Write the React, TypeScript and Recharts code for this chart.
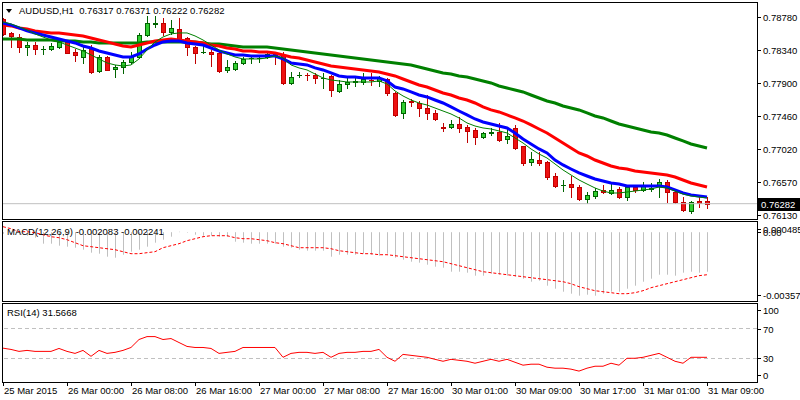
import React from "react";
import { Bar, ComposedChart, Line, ReferenceLine, XAxis, YAxis } from "recharts";

// H1 bars, index 0 = 25 Mar 16:00
const timeTicks = [0, 8, 16, 24, 32, 40, 48, 56, 64, 72, 80, 88];
const timeLabels = [
  "25 Mar 2015", "26 Mar 00:00", "26 Mar 08:00", "26 Mar 16:00", "27 Mar 00:00", "27 Mar 08:00",
  "27 Mar 16:00", "30 Mar 01:00", "30 Mar 09:00", "30 Mar 17:00", "31 Mar 01:00", "31 Mar 09:00",
];
const priceTicks = [0.7878, 0.7834, 0.779, 0.7746, 0.7702, 0.7657, 0.7613];
const macdTicks = [0.000485, 0, -0.003573];
const macdTickText = ["0.000485", "0.00", "-0.003573"];
const rsiTicks = [100, 70, 30, 0];
const lastPrice = 0.76282;

const openP = [
  0.78753, 0.78566, 0.78512, 0.78379, 0.78405, 0.78345, 0.78352, 0.78379, 0.78446, 0.78312,
  0.78245, 0.78352, 0.78057, 0.78245, 0.78084, 0.78111, 0.78178, 0.78245, 0.78539, 0.7869,
  0.787, 0.78579, 0.78619, 0.78499, 0.78379, 0.78305, 0.78312, 0.78298, 0.78071, 0.78084,
  0.78165, 0.78225, 0.78225, 0.78245, 0.78285, 0.78272, 0.77897, 0.77997, 0.78004, 0.78004,
  0.77957, 0.77991, 0.7779, 0.77884, 0.7791, 0.7791, 0.77937, 0.77924, 0.7795, 0.77763,
  0.77496, 0.77649, 0.77629, 0.77562, 0.77496, 0.77308, 0.77308, 0.77348, 0.77308, 0.77268,
  0.77174, 0.77234, 0.77241, 0.77148, 0.77295, 0.77054, 0.7684, 0.76867, 0.7684, 0.76653,
  0.76526, 0.76546, 0.76505, 0.76345, 0.76385, 0.76465, 0.76425, 0.76479, 0.76372, 0.76505,
  0.76465, 0.76485, 0.76519, 0.76572, 0.76439, 0.76305, 0.76184, 0.76318, 0.76317,
];
const highP = [
  0.78767, 0.78572, 0.78553, 0.78446, 0.78446, 0.78392, 0.78432, 0.78472, 0.78472, 0.78352,
  0.78379, 0.78405, 0.78265, 0.78252, 0.78138, 0.78205, 0.78312, 0.78566, 0.78793, 0.78793,
  0.78767, 0.7874, 0.78767, 0.78512, 0.78392, 0.78432, 0.78338, 0.78312, 0.78205, 0.78191,
  0.78245, 0.78272, 0.78272, 0.78298, 0.78312, 0.78312, 0.78044, 0.78044, 0.78031, 0.78031,
  0.78031, 0.78004, 0.77937, 0.77964, 0.77964, 0.78031, 0.78031, 0.77991, 0.77964, 0.7777,
  0.77669, 0.77683, 0.77656, 0.77736, 0.77536, 0.77362, 0.77402, 0.77442, 0.77335, 0.77295,
  0.77241, 0.77295, 0.77362, 0.77295, 0.77335, 0.7706, 0.76974, 0.76974, 0.76853, 0.76693,
  0.76599, 0.76653, 0.76532, 0.76439, 0.76492, 0.76532, 0.76559, 0.76505, 0.76519, 0.76532,
  0.76572, 0.76559, 0.76612, 0.76599, 0.76479, 0.76372, 0.76318, 0.76372, 0.76371,
];
const lowP = [
  0.78539, 0.78379, 0.78312, 0.78272, 0.78285, 0.78285, 0.78338, 0.78365, 0.78292, 0.78191,
  0.78165, 0.78031, 0.7805, 0.78064, 0.77977, 0.78031, 0.78165, 0.78231, 0.78526, 0.78646,
  0.78539, 0.78553, 0.78472, 0.78272, 0.78165, 0.78298, 0.78124, 0.78044, 0.78044, 0.78071,
  0.78151, 0.78165, 0.78178, 0.78231, 0.78151, 0.77884, 0.77884, 0.77977, 0.77937, 0.77897,
  0.7783, 0.77723, 0.77777, 0.7783, 0.77857, 0.77884, 0.7787, 0.77857, 0.77736, 0.77455,
  0.77429, 0.77589, 0.77455, 0.77415, 0.77402, 0.77255, 0.77295, 0.77241, 0.77108, 0.77081,
  0.77161, 0.77201, 0.77121, 0.77094, 0.77014, 0.768, 0.768, 0.768, 0.76612, 0.76505,
  0.76452, 0.76372, 0.76331, 0.76291, 0.76358, 0.76425, 0.76412, 0.76358, 0.76331, 0.76439,
  0.76452, 0.76452, 0.76372, 0.76305, 0.76291, 0.76184, 0.76157, 0.76238, 0.76222,
];
const closeP = [
  0.78553, 0.78526, 0.78379, 0.78405, 0.78352, 0.78352, 0.78392, 0.78446, 0.78298, 0.78272,
  0.78338, 0.78044, 0.78245, 0.78071, 0.78111, 0.78178, 0.78258, 0.78539, 0.787, 0.787,
  0.78579, 0.78633, 0.78486, 0.78379, 0.78298, 0.78312, 0.78285, 0.78057, 0.78111, 0.78165,
  0.78218, 0.78231, 0.78231, 0.78285, 0.78258, 0.77897, 0.77977, 0.78004, 0.77997, 0.77964,
  0.77964, 0.77803, 0.77884, 0.7791, 0.77917, 0.7795, 0.7793, 0.77964, 0.77763, 0.77469,
  0.77643, 0.77636, 0.77562, 0.77496, 0.77415, 0.77301, 0.77348, 0.77295, 0.77255, 0.77174,
  0.77228, 0.77241, 0.77134, 0.77188, 0.77027, 0.76827, 0.7688, 0.76827, 0.76639, 0.76519,
  0.76532, 0.76505, 0.76345, 0.76398, 0.76452, 0.76432, 0.76465, 0.76372, 0.76505, 0.76465,
  0.76532, 0.76492, 0.76572, 0.76439, 0.76305, 0.76198, 0.76305, 0.76291, 0.76282,
];

// moving averages (thin green, blue, red, thick green)
const maFast = [
  0.78713, 0.78686, 0.78646, 0.78606, 0.78553, 0.78512, 0.78472, 0.78446, 0.78405, 0.78365,
  0.78325, 0.78272, 0.78218, 0.78165, 0.78138, 0.78124, 0.78138, 0.78218, 0.78338, 0.78446,
  0.78512, 0.78553, 0.78566, 0.78566, 0.78526, 0.78472, 0.78405, 0.78338, 0.78285, 0.78245,
  0.78218, 0.78218, 0.78218, 0.78231, 0.78258, 0.78231, 0.78138, 0.78098, 0.78071, 0.78017,
  0.77964, 0.77937, 0.77924, 0.7791, 0.7791, 0.7791, 0.7791, 0.77924, 0.77884, 0.7779,
  0.77723, 0.77669, 0.77629, 0.77602, 0.77562, 0.77522, 0.77482, 0.77429, 0.77362, 0.77321,
  0.77295, 0.77281, 0.77255, 0.77228, 0.77161, 0.77094, 0.77014, 0.76947, 0.76893, 0.76813,
  0.76733, 0.76666, 0.76599, 0.76545, 0.76492, 0.76451, 0.76425, 0.76425, 0.76438, 0.76451,
  0.76465, 0.76478, 0.76505, 0.76492, 0.76451, 0.76411, 0.76385, 0.76371, 0.76358,
];
const maBlue = [
  0.787, 0.78673, 0.78633, 0.78593, 0.78566, 0.78539, 0.78512, 0.78486, 0.78459, 0.78432,
  0.78392, 0.78365, 0.78325, 0.78298, 0.78272, 0.78245, 0.78245, 0.78285, 0.78352, 0.78405,
  0.78446, 0.78459, 0.78459, 0.78432, 0.78419, 0.78405, 0.78365, 0.78325, 0.78298, 0.78272,
  0.78272, 0.78258, 0.78258, 0.78258, 0.78258, 0.78218, 0.78165, 0.78151, 0.78138, 0.78098,
  0.78071, 0.78031, 0.77991, 0.77977, 0.77977, 0.77964, 0.77964, 0.77964, 0.77924, 0.77843,
  0.77817, 0.77777, 0.77736, 0.7771, 0.77669, 0.77629, 0.77576, 0.77522, 0.77469, 0.77415,
  0.77375, 0.77348, 0.77321, 0.77295, 0.77228, 0.77147, 0.77081, 0.77014, 0.7696, 0.76866,
  0.768, 0.76746, 0.76693, 0.76652, 0.76612, 0.76585, 0.76559, 0.76545, 0.76519, 0.76519,
  0.76519, 0.76519, 0.76519, 0.76505, 0.76465, 0.76425, 0.76398, 0.76385, 0.76371,
];
const maRed = [
  0.78673, 0.7866, 0.78633, 0.78619, 0.78593, 0.78579, 0.78566, 0.78566, 0.78553, 0.78539,
  0.78526, 0.78499, 0.78472, 0.78446, 0.78419, 0.78392, 0.78379, 0.78405, 0.78432, 0.78459,
  0.78472, 0.78486, 0.78472, 0.78459, 0.78446, 0.78432, 0.78405, 0.78392, 0.78365, 0.78352,
  0.78325, 0.78325, 0.78312, 0.78312, 0.78298, 0.78272, 0.78245, 0.78231, 0.78205, 0.78178,
  0.78151, 0.78124, 0.78111, 0.78098, 0.78084, 0.78071, 0.78057, 0.78044, 0.78017, 0.77991,
  0.7795, 0.7791, 0.7787, 0.77843, 0.77803, 0.77763, 0.77736, 0.77696, 0.77669, 0.77629,
  0.77576, 0.77536, 0.77509, 0.77469, 0.77429, 0.77388, 0.77335, 0.77281, 0.77228, 0.77161,
  0.77094, 0.77027, 0.7696, 0.7692, 0.76866, 0.76826, 0.76786, 0.76759, 0.76746, 0.76719,
  0.76706, 0.76693, 0.76679, 0.76666, 0.76639, 0.76599, 0.76559, 0.76532, 0.76505,
];
const maSlow = [
  0.78486, 0.78486, 0.78486, 0.78472, 0.78472, 0.78472, 0.78472, 0.78459, 0.78459, 0.78459,
  0.78446, 0.78446, 0.78432, 0.78432, 0.78432, 0.78432, 0.78432, 0.78432, 0.78446, 0.78446,
  0.78446, 0.78446, 0.78446, 0.78446, 0.78446, 0.78432, 0.78419, 0.78419, 0.78405, 0.78392,
  0.78379, 0.78379, 0.78379, 0.78379, 0.78365, 0.78352, 0.78338, 0.78325, 0.78312, 0.78298,
  0.78285, 0.78272, 0.78258, 0.78245, 0.78231, 0.78218, 0.78205, 0.78191, 0.78178, 0.78165,
  0.78151, 0.78138, 0.78111, 0.78084, 0.78057, 0.78031, 0.78017, 0.77991, 0.77977, 0.7795,
  0.77924, 0.77897, 0.77857, 0.7783, 0.77803, 0.77777, 0.77736, 0.77696, 0.77656, 0.77629,
  0.77589, 0.77562, 0.77536, 0.77496, 0.77455, 0.77429, 0.77388, 0.77348, 0.77321, 0.77295,
  0.77268, 0.77241, 0.77228, 0.77201, 0.77161, 0.77121, 0.77081, 0.77054, 0.77027,
];

// MACD(12,26,9)
const macdHist = [
  -0.000079, -0.000132, -0.000132, -0.000184, -0.00029, -0.000606, -0.000606, -0.000711, -0.000764, -0.000817,
  -0.000922, -0.00108, -0.001133, -0.001291, -0.001344, -0.001186, -0.001028, -0.000922, -0.000764, -0.000553,
  -0.000395, -0.000237, 0.000026, -0.000026, -0.000132, -0.000184, -0.000184, -0.000237, -0.000237, -0.000501,
  -0.000553, -0.000606, -0.000606, -0.000606, -0.000606, -0.000764, -0.000817, -0.000922, -0.000975, -0.000975,
  -0.000975, -0.001291, -0.001186, -0.001186, -0.001186, -0.001133, -0.001186, -0.001238, -0.001133, -0.001344,
  -0.001449, -0.001555, -0.001607, -0.001713, -0.001818, -0.001871, -0.002082, -0.002082, -0.002134, -0.002292,
  -0.002292, -0.002187, -0.00224, -0.002292, -0.002345, -0.00245, -0.002609, -0.002556, -0.00282, -0.002978,
  -0.003136, -0.003241, -0.003346, -0.003294, -0.003346, -0.003241, -0.003136, -0.003136, -0.002978, -0.00282,
  -0.002609, -0.00245, -0.00224, -0.00224, -0.002292, -0.002134, -0.002082, -0.002134, -0.002083,
];
const macdSignal = [
  0.00029, 0.000184, 0.000026, 0.000026, -0.000026, -0.000132, -0.000237, -0.00029, -0.000395, -0.000553,
  -0.000711, -0.000764, -0.000817, -0.00087, -0.000922, -0.001028, -0.001133, -0.001133, -0.00108, -0.001028,
  -0.000817, -0.000711, -0.000606, -0.000448, -0.000343, -0.000237, -0.000184, -0.000184, -0.000184, -0.00029,
  -0.000343, -0.000343, -0.000395, -0.000448, -0.000553, -0.000606, -0.000711, -0.000817, -0.000817, -0.000817,
  -0.000817, -0.00087, -0.000975, -0.001028, -0.00108, -0.001133, -0.001133, -0.001186, -0.001186, -0.001238,
  -0.001291, -0.001344, -0.001397, -0.001449, -0.001502, -0.001555, -0.00166, -0.001765, -0.001871, -0.001976,
  -0.002082, -0.002134, -0.002187, -0.00224, -0.002292, -0.002345, -0.002398, -0.00245, -0.002503, -0.002556,
  -0.002609, -0.002714, -0.002872, -0.002978, -0.003083, -0.003136, -0.003188, -0.003241, -0.003241, -0.003188,
  -0.003083, -0.002925, -0.00282, -0.002714, -0.002609, -0.002503, -0.002398, -0.002292, -0.002241,
];

// RSI(14)
const rsiVals = [
  43.8, 42.1, 39.5, 40.8, 39.5, 39.5, 39.5, 43.4, 39.5, 36.8,
  40.8, 32.9, 40.8, 36.8, 38.2, 40.8, 44.7, 55.3, 59.2, 59.2,
  55.3, 56.6, 51.3, 46.1, 44.7, 44.7, 43.4, 36.8, 38.2, 39.5,
  44.7, 44.7, 44.7, 44.7, 44.7, 31.6, 36.8, 38.2, 38.2, 36.8,
  38.2, 31.6, 36.8, 38.2, 38.2, 39.5, 39.5, 42.1, 31.6, 26.3,
  35.5, 34.2, 32.9, 31.6, 28.9, 26.3, 28.9, 27.6, 26.3, 23.7,
  26.3, 28.9, 26.3, 28.9, 25.0, 21.1, 22.4, 22.4, 18.4, 17.1,
  17.1, 15.8, 13.2, 17.1, 19.7, 19.7, 23.7, 21.1, 30.3, 30.3,
  31.6, 34.2, 36.8, 31.6, 26.3, 23.7, 31.6, 31.6, 31.5668,
];

const rows = openP.map((o, i) => ({
  i,
  o,
  h: highP[i],
  l: lowP[i],
  c: closeP[i],
  range: [lowP[i], highP[i]],
  fast: maFast[i],
  blue: maBlue[i],
  red: maRed[i],
  slow: maSlow[i],
  macd: macdHist[i],
  signal: macdSignal[i],
  rsi: rsiVals[i],
}));

const font = "'Liberation Sans', Arial, sans-serif";
const xDomain = [-0.125, 94.25];
const AXIS_X = 757;

function Candle(props: any) {
  const { x, y, width, height, payload } = props;
  if (payload == null || y == null) return null;
  const cx = Math.round(x + width / 2);
  const top = Math.min(y, y + height);
  const span = Math.abs(height);
  const { o, c, h, l } = payload;
  const py = (v: number) => (h === l ? top : top + ((h - v) / (h - l)) * span);
  const bull = c >= o;
  const stroke = bull ? "#006400" : "#c00000";
  const fill = bull ? "#32cd32" : "#ee1111";
  const yo = Math.round(py(o));
  const yc = Math.round(py(c));
  const b0 = Math.min(yo, yc);
  const b1 = Math.max(yo, yc);
  return (
    <g>
      <line x1={cx + 0.5} x2={cx + 0.5} y1={Math.round(top)} y2={Math.round(top + span) + 1} stroke={stroke} />
      {b1 - b0 < 1 ? (
        <line x1={cx - 2} x2={cx + 3} y1={b0 + 0.5} y2={b0 + 0.5} stroke={stroke} />
      ) : (
        <rect x={cx - 1.5} y={b0 + 0.5} width={4} height={b1 - b0} fill={fill} stroke={stroke} />
      )}
    </g>
  );
}

function HistBar(props: any) {
  const { x, y, width, height } = props;
  if (y == null) return null;
  const cx = Math.round(x + width / 2);
  return <line x1={cx + 0.5} x2={cx + 0.5} y1={y} y2={y + height} stroke="#c0c0c0" />;
}

function PriceTag(props: any) {
  const vb = props.viewBox || {};
  const x = vb.x + vb.width;
  const y = Math.round(vb.y);
  return (
    <g>
      <rect x={x} y={y - 6} width={43} height={13} fill="#000" />
      <text x={x + 4} y={y + 4} fill="#fff" fontSize={9.5} fontFamily={font}>
        {lastPrice.toFixed(5)}
      </text>
    </g>
  );
}

const clampTick = (lo: number, hi: number, fmt: (v: number, i: number) => string) =>
  function Tick(props: any) {
    const { y, payload, index } = props;
    const ty = Math.round(Math.min(Math.max(y, lo), hi));
    return (
      <g>
        <line x1={AXIS_X} x2={AXIS_X + 4} y1={ty + 0.5} y2={ty + 0.5} stroke="#000" />
        <text x={AXIS_X + 6} y={ty + 3.5} fontSize={9.5} fontFamily={font} fill="#000">
          {fmt(payload.value, index)}
        </text>
      </g>
    );
  };

const PriceTick = clampTick(0, 999, (v) => v.toFixed(5));
const MacdTick = clampTick(8, 74, (v) => macdTickText[macdTicks.indexOf(v)] ?? String(v));
const RsiTick = clampTick(7, 72, (v) => String(v));

function TimeTick(props: any) {
  const { x, payload } = props;
  const k = timeTicks.indexOf(payload.value);
  return (
    <g>
      <line x1={x + 0.5} x2={x + 0.5} y1={79} y2={83} stroke="#000" />
      <text x={x + 1} y={91} fontSize={9.5} fontFamily={font} fill="#000">
        {timeLabels[k]}
      </text>
    </g>
  );
}

const frame = (top: number, height: number): React.CSSProperties => ({
  position: "absolute",
  left: 2,
  top,
  width: 756,
  height,
  border: "1px solid #000",
  boxSizing: "border-box",
  pointerEvents: "none",
});

const label = (left: number, top: number): React.CSSProperties => ({
  position: "absolute",
  left,
  top,
  fontSize: 9.5,
  lineHeight: "11px",
  fontFamily: font,
  color: "#000",
  whiteSpace: "pre",
});

export default function App() {
  return (
    <div style={{ position: "fixed", left: 0, top: 0, width: 800, height: 400, background: "#fff", fontFamily: font }}>
      <div style={{ position: "absolute", left: 0, top: 0 }}>
        <ComposedChart width={800} height={220} data={rows} margin={{ top: 2, right: 0, bottom: 1, left: 2 }}>
          <XAxis dataKey="i" type="number" domain={xDomain} hide allowDataOverflow />
          <YAxis
            orientation="right"
            width={43}
            domain={[0.76077, 0.7898]}
            ticks={priceTicks}
            interval={0}
            allowDataOverflow
            axisLine={false}
            tickLine={false}
            tick={<PriceTick />}
          />
          <ReferenceLine y={lastPrice} stroke="#c0c0c0" label={<PriceTag />} />
          <Line dataKey="slow" stroke="#008000" strokeWidth={3} dot={false} activeDot={false} isAnimationActive={false} />
          <Line dataKey="red" stroke="#ff0000" strokeWidth={3} dot={false} activeDot={false} isAnimationActive={false} />
          <Line dataKey="blue" stroke="#0000ff" strokeWidth={3} dot={false} activeDot={false} isAnimationActive={false} />
          <Line dataKey="fast" stroke="#008000" strokeWidth={1} dot={false} activeDot={false} isAnimationActive={false} />
          <Bar dataKey="range" barSize={5} shape={(p: any) => <Candle {...p} />} isAnimationActive={false} />
        </ComposedChart>
      </div>

      <div style={{ position: "absolute", left: 0, top: 221 }}>
        <ComposedChart width={800} height={81} data={rows} margin={{ top: 2, right: 0, bottom: 2, left: 2 }}>
          <XAxis dataKey="i" type="number" domain={xDomain} hide allowDataOverflow />
          <YAxis
            orientation="right"
            width={43}
            domain={[-0.003573, 0.000485]}
            ticks={macdTicks}
            interval={0}
            allowDataOverflow
            axisLine={false}
            tickLine={false}
            tick={<MacdTick />}
          />
          <Bar dataKey="macd" barSize={1} shape={(p: any) => <HistBar {...p} />} isAnimationActive={false} />
          <Line dataKey="signal" stroke="#ff0000" strokeWidth={1} strokeDasharray="3 2" dot={false} activeDot={false} isAnimationActive={false} />
        </ComposedChart>
      </div>

      <div style={{ position: "absolute", left: 0, top: 303 }}>
        <ComposedChart width={800} height={97} data={rows} margin={{ top: 3, right: 0, bottom: 3, left: 2 }}>
          <XAxis
            dataKey="i"
            type="number"
            domain={xDomain}
            ticks={timeTicks}
            interval={0}
            height={16}
            allowDataOverflow
            axisLine={false}
            tickLine={false}
            tick={<TimeTick />}
          />
          <YAxis
            orientation="right"
            width={43}
            domain={[0, 100]}
            ticks={rsiTicks}
            interval={0}
            allowDataOverflow
            axisLine={false}
            tickLine={false}
            tick={<RsiTick />}
          />
          <ReferenceLine y={70} stroke="#c0c0c0" strokeDasharray="4 3" />
          <ReferenceLine y={30} stroke="#c0c0c0" strokeDasharray="4 3" />
          <Line dataKey="rsi" stroke="#ff0000" strokeWidth={1} dot={false} activeDot={false} isAnimationActive={false} />
        </ComposedChart>
      </div>

      <div style={frame(2, 218)} />
      <div style={frame(221, 81)} />
      <div style={frame(303, 80)} />

      <div
        style={{
          position: "absolute",
          left: 6,
          top: 9,
          width: 0,
          height: 0,
          borderLeft: "3px solid transparent",
          borderRight: "3px solid transparent",
          borderTop: "4px solid #000",
        }}
      />
      <div style={label(19, 5)}>{"AUDUSD,H1  0.76317 0.76371 0.76222 0.76282"}</div>
      <div style={label(7, 226)}>{"MACD(12,26,9) -0.002083 -0.002241"}</div>
      <div style={label(7, 307)}>{"RSI(14) 31.5668"}</div>
    </div>
  );
}
